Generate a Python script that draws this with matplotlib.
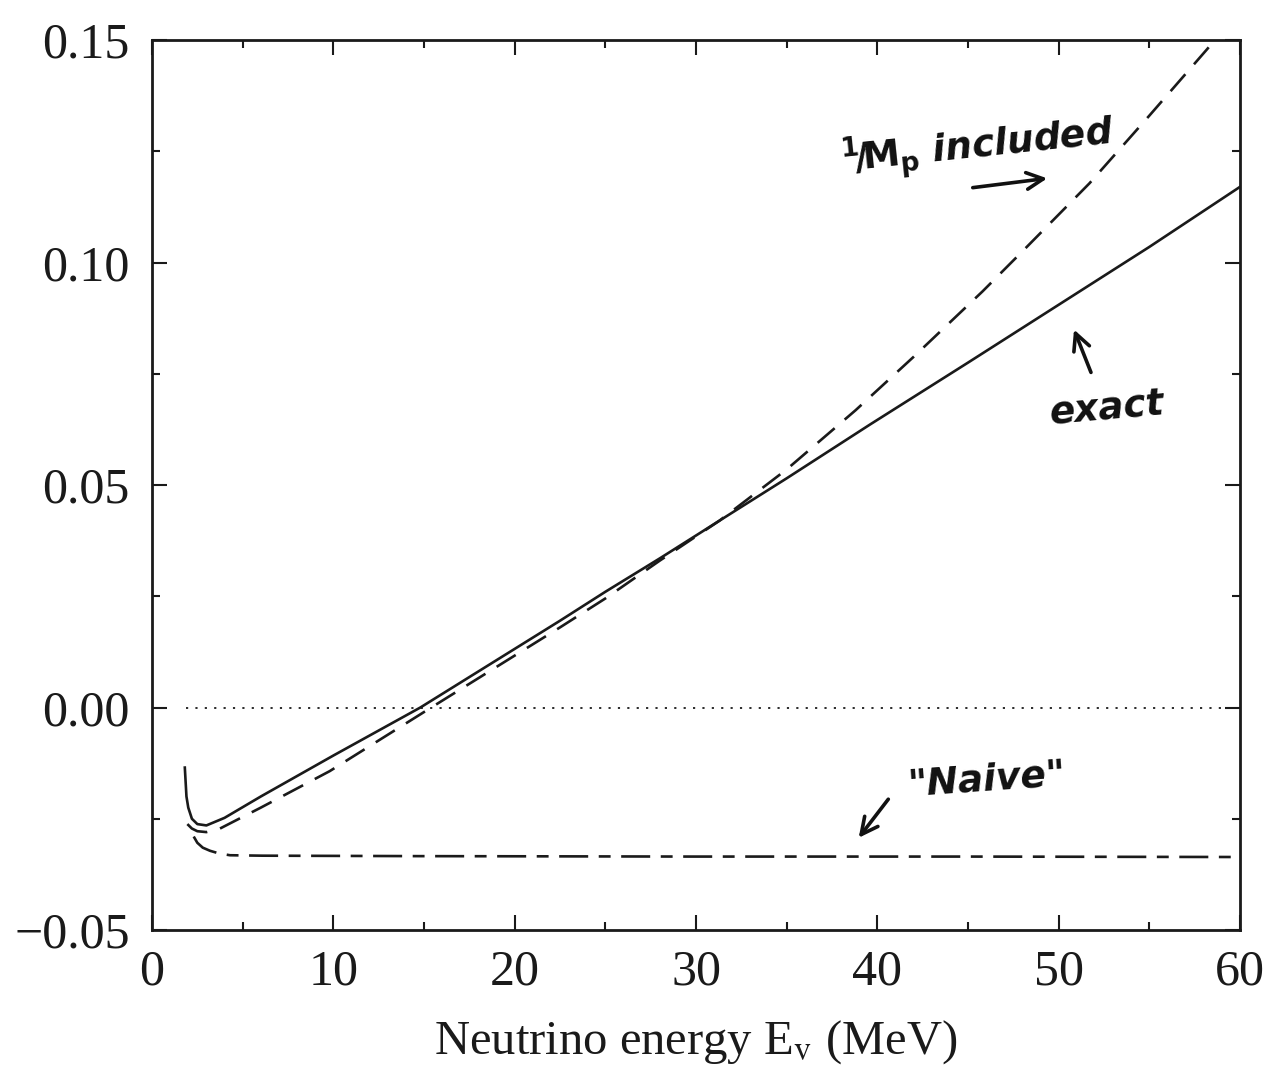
import matplotlib.pyplot as plt
from matplotlib.ticker import MultipleLocator

# Readings (tilt of the scan removed)
energy_exact = [1.81, 1.9, 2.0, 2.2, 2.5, 3.0, 4.0, 6.0, 10.0, 14.8, 22.5, 25.0, 28.0,
                31.3, 35.0, 39.6, 45.0, 50.0, 55.0, 60.0]
ratio_exact = [-0.0135, -0.0200, -0.0225, -0.0250, -0.0262, -0.0265, -0.0248, -0.0200,
               -0.0108, 0.0, 0.0195, 0.0260, 0.0335, 0.0420, 0.0515, 0.0636, 0.0775,
               0.0905, 0.1035, 0.1170]

energy_mp = [1.95, 2.2, 2.5, 3.0, 3.75, 6.0, 9.8, 15.4, 22.5, 25.0, 28.0, 31.3, 35.0,
             38.8, 42.0, 45.8, 48.0, 51.7, 55.0, 58.2, 60.0]
ratio_mp = [-0.0262, -0.0272, -0.0278, -0.0280, -0.0272, -0.0225, -0.0143, 0.0, 0.0180,
            0.0245, 0.0330, 0.0420, 0.0535, 0.0668, 0.0788, 0.0935, 0.1025, 0.1178,
            0.1330, 0.1480, 0.1570]

energy_naive = [2.3, 2.5, 2.8, 3.2, 3.7, 4.3, 6.1, 14.8, 30.0, 45.0, 60.0]
ratio_naive = [-0.0290, -0.0304, -0.0315, -0.0322, -0.0328, -0.0332, -0.0333, -0.0334,
               -0.0335, -0.0335, -0.0336]

x_ticks = [0, 10, 20, 30, 40, 50, 60]
y_ticks = [-0.05, 0.00, 0.05, 0.10, 0.15]

plt.rcParams['font.family'] = ['Liberation Serif', 'DejaVu Serif']
plt.rcParams['mathtext.fontset'] = 'stix'

W, H = 1267, 1066
fig = plt.figure(figsize=(W / 100, H / 100), dpi=100)
ax = fig.add_axes([152 / W, 1 - 930 / H, (1240 - 152) / W, (930 - 40) / H])

ink = '#1a1a1a'
ax.plot(energy_exact, ratio_exact, color=ink, lw=1.9)
ax.plot(energy_mp, ratio_mp, color=ink, lw=1.9, linestyle=(0, (8.5, 5)))
ax.plot(energy_naive, ratio_naive, color=ink, lw=1.9, linestyle=(0, (11, 4, 4.5, 4)))
ax.plot([1.9, 60], [0, 0], color=ink, lw=1.3, linestyle=(0, (1.2, 4)))

ax.set_xlim(0, 60)
ax.set_ylim(-0.05, 0.15)
ax.set_xticks(x_ticks)
ax.set_yticks(y_ticks)
ax.set_xticklabels([str(t) for t in x_ticks])
ax.set_yticklabels(['\u22120.05', '0.00', '0.05', '0.10', '0.15'])
ax.xaxis.set_minor_locator(MultipleLocator(5))
ax.yaxis.set_minor_locator(MultipleLocator(0.025))
ax.tick_params(which='both', direction='in', top=True, right=True, width=1.5,
               color=ink, labelsize=36, labelcolor=ink)
ax.tick_params(which='major', length=11)
ax.tick_params(which='minor', length=6)
ax.tick_params(axis='x', pad=14)
ax.tick_params(axis='y', pad=16)
for sp in ax.spines.values():
    sp.set_linewidth(2)
    sp.set_color(ink)

ax.set_xlabel(r'Neutrino energy E$_{\mathrm{v}}$ (MeV)', fontsize=35, color=ink,
              labelpad=16)


def fpos(px, py):
    return (px / W, 1 - py / H)


# handwritten notes
hand = dict(family='DejaVu Sans', fontweight='bold', fontstyle='italic',
            color='#111111', ha='center', va='center')
fig.text(*fpos(978, 148), r'$\mathbf{{}^{1}\!/\!M_{p}}$ included', fontsize=27,
         rotation=6, math_fontfamily='dejavusans', **hand)
fig.text(*fpos(1107, 410), 'exact', fontsize=27, rotation=5, **hand)
fig.text(*fpos(987, 780), '"Naive"', fontsize=27, rotation=4, **hand)

arrow = dict(arrowstyle='->', lw=2.6, color='#111111', mutation_scale=30)
ax.annotate('', xy=fpos(1050, 178), xytext=fpos(970, 188),
            xycoords='figure fraction', textcoords='figure fraction', arrowprops=arrow)
ax.annotate('', xy=fpos(1073, 327), xytext=fpos(1092, 375),
            xycoords='figure fraction', textcoords='figure fraction', arrowprops=arrow)
ax.annotate('', xy=fpos(857, 840), xytext=fpos(890, 797),
            xycoords='figure fraction', textcoords='figure fraction', arrowprops=arrow)

fig.savefig('out.png', dpi=100)
